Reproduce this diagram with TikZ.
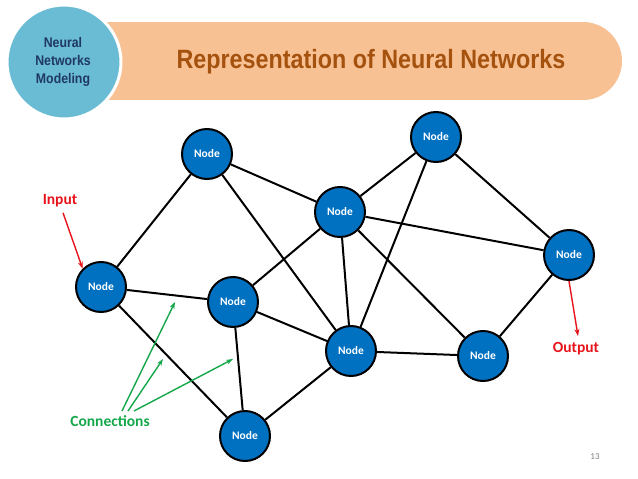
\documentclass[tikz,border=0pt]{standalone}
\usepackage{fontspec}
\setmainfont{Carlito}
\newfontfamily\headfont[FakeStretch=0.88]{Liberation Sans}
\usetikzlibrary{arrows.meta}
\definecolor{nodeblue}{HTML}{0070C0}
\definecolor{banner}{HTML}{F8C194}
\definecolor{titlebrown}{HTML}{A5520F}
\definecolor{badge}{HTML}{6ABCD4}
\definecolor{badgetext}{HTML}{1F3864}
\definecolor{inred}{HTML}{E8141B}
\definecolor{congreen}{HTML}{15A84A}
\begin{document}
\begin{tikzpicture}[x=1pt,y=-1pt,
  neuron/.style={circle,draw=black,line width=2pt,fill=nodeblue,
    minimum size=50pt,inner sep=0pt,text=white,font=\bfseries\fontsize{11.5}{12}\selectfont},
  link/.style={draw=black,line width=2pt},
  ioarrow/.style={draw=inred,line width=1.4pt,-{Stealth[length=7pt,width=5pt]}},
  conarrow/.style={draw=congreen,line width=1.4pt,-{Stealth[length=7pt,width=5pt]}},
  iolabel/.style={font=\bfseries\fontsize{15.5}{17}\selectfont}]
\useasboundingbox (0,0) rectangle (638,479);
\fill[white] (0,0) rectangle (638,479);

% header banner and badge
\fill[banner] (100,22) rectangle (583,100);
\fill[banner] (583,61) circle[radius=39];
\node[text=titlebrown,font=\headfont\bfseries\fontsize{26.5}{30}\selectfont] (title) at (371,62) {Representation of Neural Networks};
\fill[badge,draw=white,line width=3pt] (64,62) circle[radius=57];
\node[text=badgetext,align=center,font=\headfont\bfseries\fontsize{14}{18}\selectfont] (badgetxt) at (63,62) {Neural\\Networks\\Modeling};

% neurons
\node[neuron] (n1) at (207,154) {Node};
\node[neuron] (n2) at (436,137) {Node};
\node[neuron] (n3) at (340,212) {Node};
\node[neuron] (n4) at (101,287) {Node};
\node[neuron] (n5) at (233,302) {Node};
\node[neuron] (n6) at (569,255) {Node};
\node[neuron] (n7) at (351,351) {Node};
\node[neuron] (n8) at (483,356) {Node};
\node[neuron] (n9) at (245,436) {Node};

% connections between neurons
\foreach \a/\b in {n4/n1,n4/n5,n4/n9,n1/n3,n1/n7,n3/n2,n3/n5,n3/n7,n3/n6,n3/n8,
                   n2/n7,n2/n6,n5/n7,n5/n9,n9/n7,n7/n8,n8/n6}
  \draw[link] (\a) -- (\b);

% input / output
\node[iolabel,text=inred] (inlbl) at (60,201) {Input};
\draw[ioarrow] (inlbl.south) ++(3,2) -- (n4.north west);
\coordinate (outtip) at (578,336);
\draw[ioarrow] (n6.south) -- (outtip);
\node[iolabel,text=inred,anchor=north] (outlbl) at (576,339) {Output};

% connections label
\node[iolabel,text=congreen] (conlbl) at (110,421) {Connections};
\coordinate (c1) at (175,302);
\coordinate (c2) at (163,359);
\coordinate (c3) at (233,359);
\draw[conarrow] (122,411) -- (c1);
\draw[conarrow] (128,411) -- (c2);
\draw[conarrow] (134,411) -- (c3);

% page number
\node[text=gray,font=\fontsize{9}{10}\selectfont] (pg) at (595,457) {13};
\end{tikzpicture}
\end{document}
